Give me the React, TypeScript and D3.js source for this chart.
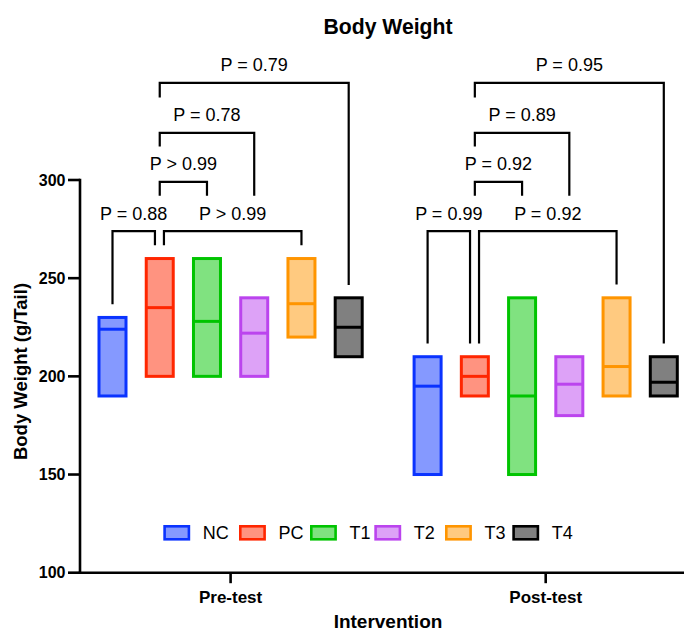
import React from "react";
import * as d3 from "d3";

// ---- data ----
const groups = ["Pre-test", "Post-test"];
const series = ["NC", "PC", "T1", "T2", "T3", "T4"];
const colors = ["#0a33ff", "#ff2600", "#00c400", "#bb44ee", "#ff9500", "#000000"];
// floating bars: min, max, line (mean)
const preMin = [190, 200, 200, 200, 220, 210];
const preMax = [230, 260, 260, 240, 260, 240];
const preMid = [224, 235, 228, 222, 237, 225];
const postMin = [150, 190, 150, 180, 190, 190];
const postMax = [210, 210, 240, 210, 240, 210];
const postMid = [195, 200, 190, 196, 205, 197];
const yTicks = [100, 150, 200, 250, 300];

// brackets: group, from, to, level, fromEnd, toEnd (data units), label
const preBrackets = [
  { a: "NC", b: "PC", level: 274, aEnd: 236.7, bEnd: 266.8, label: "P = 0.88" },
  { a: "PC", b: "T3", level: 274, aEnd: 266.8, bEnd: 266.8, label: "P > 0.99" },
  { a: "PC", b: "T1", level: 299, aEnd: 292, bEnd: 292, label: "P > 0.99" },
  { a: "PC", b: "T2", level: 324, aEnd: 317, bEnd: 292, label: "P = 0.78" },
  { a: "PC", b: "T4", level: 349.5, aEnd: 342, bEnd: 246.5, label: "P = 0.79" },
];
const postBrackets = [
  { a: "NC", b: "PC", level: 274, aEnd: 216.7, bEnd: 216.7, label: "P = 0.99" },
  { a: "PC", b: "T3", level: 274, aEnd: 216.7, bEnd: 246.8, label: "P = 0.92" },
  { a: "PC", b: "T1", level: 299, aEnd: 292, bEnd: 292, label: "P = 0.92" },
  { a: "PC", b: "T2", level: 324, aEnd: 317, bEnd: 292, label: "P = 0.89" },
  { a: "PC", b: "T4", level: 349.5, aEnd: 342, bEnd: 216.7, label: "P = 0.95" },
];

const W = 684;
const H = 632;
const FONT = "'Liberation Sans', Arial, Helvetica, sans-serif";

export default function App() {
  const y = d3.scaleLinear().domain([100, 300]).range([572.7, 180]);
  const gx = d3.scalePoint().domain(groups).range([230.6, 545.7]);
  const sx = d3.scalePoint().domain(series).range([-118.1, 118.1]);
  const axisX = 80;
  const boxW = 27;

  const groupData = [
    { g: groups[0], min: preMin, max: preMax, mid: preMid, br: preBrackets },
    { g: groups[1], min: postMin, max: postMax, mid: postMid, br: postBrackets },
  ];

  const legendOffsets = [0, 75.7, 146.7, 211, 281.7, 349];
  const legendX0 = 163.3;

  return (
    <svg
      width={W}
      height={H}
      style={{ position: "absolute", left: 0, top: 0, background: "#fff" }}
      fontFamily={FONT}
    >
      <rect width={W} height={H} fill="#fff" />
      {/* title */}
      <text x={388} y={34} textAnchor="middle" fontWeight="bold" fontSize={21.2} fill="#000">
        Body Weight
      </text>

      {/* boxes */}
      {groupData.map((gd) => (
        <g key={gd.g}>
          {series.map((s, i) => {
            const cx = (gx(gd.g) as number) + (sx(s) as number);
            const c = colors[i];
            const fill = d3.interpolateRgb("#ffffff", c)(0.5);
            return (
              <g key={s}>
                <rect
                  x={cx - boxW / 2}
                  y={y(gd.max[i])}
                  width={boxW}
                  height={y(gd.min[i]) - y(gd.max[i])}
                  fill={fill}
                  stroke={c}
                  strokeWidth={3}
                />
                <line
                  x1={cx - boxW / 2}
                  x2={cx + boxW / 2}
                  y1={y(gd.mid[i])}
                  y2={y(gd.mid[i])}
                  stroke={c}
                  strokeWidth={3}
                />
              </g>
            );
          })}
          {/* brackets */}
          {gd.br.map((b, j) => {
            const base = gx(gd.g) as number;
            const lowest = b.level < 280;
            let xa = base + (sx(b.a) as number);
            let xb = base + (sx(b.b) as number);
            if (lowest && b.b === "PC") xb -= 4.8;
            if (lowest && b.a === "PC") xa += 4.2;
            const yl = y(b.level);
            const d = `M${xa},${y(b.aEnd)}V${yl}H${xb}V${y(b.bEnd)}`;
            return (
              <g key={j}>
                <path d={d} fill="none" stroke="#000" strokeWidth={2.2} />
                <text
                  x={(xa + xb) / 2}
                  y={yl - 11.5}
                  textAnchor="middle"
                  fontSize={18}
                  fill="#000"
                >
                  {b.label}
                </text>
              </g>
            );
          })}
        </g>
      ))}

      {/* y axis */}
      <line x1={axisX} x2={axisX} y1={y(300) - 1.2} y2={y(100)} stroke="#000" strokeWidth={2.6} />
      {yTicks.map((t) => (
        <g key={t}>
          <line x1={axisX - 12} x2={axisX} y1={y(t)} y2={y(t)} stroke="#000" strokeWidth={2.6} />
          <text
            x={axisX - 14.5}
            y={y(t)}
            dy="0.36em"
            textAnchor="end"
            fontWeight="bold"
            fontSize={16}
            fill="#000"
          >
            {t}
          </text>
        </g>
      ))}
      <text
        transform={`translate(27,${371.5}) rotate(-90)`}
        textAnchor="middle"
        fontWeight="bold"
        fontSize={18.5}
        fill="#000"
      >
        Body Weight (g/Tail)
      </text>

      {/* x axis */}
      <line x1={axisX - 1.3} x2={W} y1={y(100)} y2={y(100)} stroke="#000" strokeWidth={2.6} />
      {groups.map((g) => (
        <g key={g}>
          <line
            x1={gx(g) as number}
            x2={gx(g) as number}
            y1={y(100)}
            y2={y(100) + 10.5}
            stroke="#000"
            strokeWidth={2.6}
          />
          <text
            x={gx(g) as number}
            y={602.7}
            textAnchor="middle"
            fontWeight="bold"
            fontSize={17}
            fill="#000"
          >
            {g}
          </text>
        </g>
      ))}
      <text x={388} y={628} textAnchor="middle" fontWeight="bold" fontSize={19} fill="#000">
        Intervention
      </text>

      {/* legend */}
      {series.map((s, i) => {
        const lx = legendX0 + legendOffsets[i];
        const c = colors[i];
        return (
          <g key={s}>
            <rect
              x={lx + 1.3}
              y={526.3}
              width={24.3}
              height={13}
              fill={d3.interpolateRgb("#ffffff", c)(0.5)}
              stroke={c}
              strokeWidth={2.6}
            />
            <text x={lx + 39.4} y={532.8} dy="0.36em" fontSize={18} fill="#000">
              {s}
            </text>
          </g>
        );
      })}
    </svg>
  );
}
